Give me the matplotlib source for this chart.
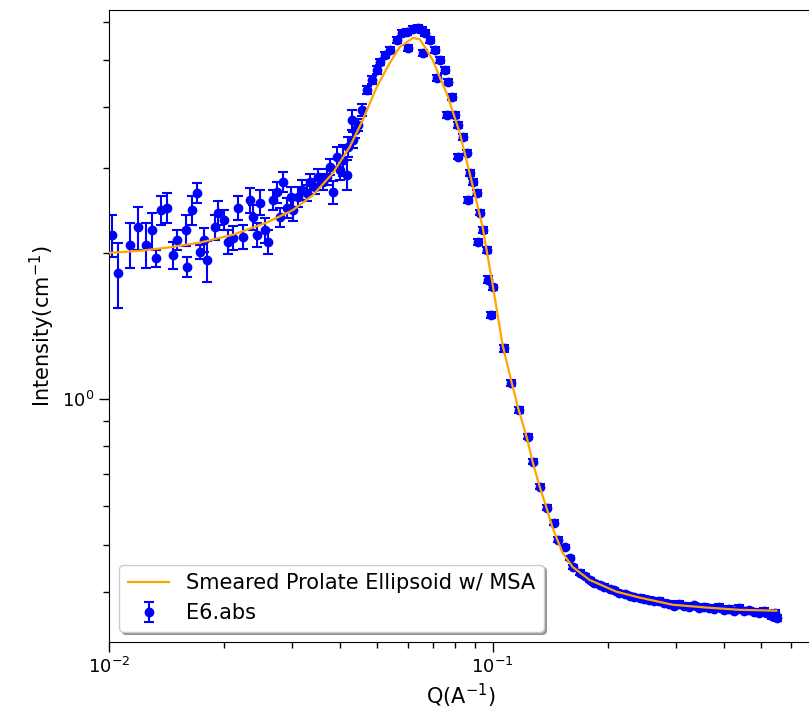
import matplotlib
matplotlib.use("Agg")
import matplotlib.pyplot as plt

# measured data (Q in 1/A, intensity in 1/cm, error in 1/cm)
q_data = [
    0.01018, 0.01055, 0.01134, 0.01190, 0.01249, 0.01294, 0.01326, 0.01365, 0.01416, 0.01468,
    0.01503, 0.01586, 0.01596, 0.01644, 0.01694, 0.01726, 0.01767, 0.01799, 0.01888, 0.01923,
    0.01992, 0.02042, 0.02104, 0.02168, 0.02234, 0.02328, 0.02371, 0.02427, 0.02472, 0.02547,
    0.02594, 0.02673, 0.02738, 0.02787, 0.02838, 0.02907, 0.02978, 0.03013, 0.03105, 0.03181,
    0.03278, 0.03337, 0.03439, 0.03502, 0.03609, 0.03697, 0.03763, 0.03831, 0.03925, 0.03996,
    0.04068, 0.04167, 0.04192, 0.04295, 0.04321, 0.04373, 0.04452, 0.04560, 0.04699, 0.04842,
    0.04989, 0.05079, 0.05234, 0.05393, 0.05623, 0.05794, 0.05970, 0.06006, 0.06189, 0.06377,
    0.06534, 0.06574, 0.06653, 0.06855, 0.07063, 0.07149, 0.07278, 0.07499, 0.07636, 0.07822,
    0.07590, 0.07962, 0.08107, 0.08354, 0.08107, 0.08557, 0.08712, 0.08870, 0.08608, 0.09085,
    0.09250, 0.09140, 0.09419, 0.09647, 0.09705, 0.1000, 0.0988, 0.1068, 0.1114, 0.1169,
    0.1233, 0.1271, 0.1326, 0.1382, 0.1442, 0.1477, 0.1540, 0.1587, 0.1616, 0.1685,
    0.1736, 0.1789, 0.1843, 0.1900, 0.1957, 0.2017, 0.2078, 0.2141, 0.2207, 0.2274,
    0.2343, 0.2415, 0.2488, 0.2564, 0.2642, 0.2722, 0.2805, 0.2890, 0.2979, 0.3069,
    0.3162, 0.3258, 0.3357, 0.3460, 0.3565, 0.3673, 0.3785, 0.3900, 0.4019, 0.4142,
    0.4267, 0.4397, 0.4531, 0.4669, 0.4811, 0.4957, 0.5108, 0.5264, 0.5362, 0.5459,
    0.5524,
]
i_data = [
    2.18, 1.82, 2.08, 2.26, 2.08, 2.23, 1.95, 2.45, 2.48, 1.98,
    2.13, 2.23, 1.87, 2.45, 2.66, 2.01, 2.13, 1.93, 2.26, 2.42,
    2.34, 2.11, 2.15, 2.48, 2.16, 2.57, 2.37, 2.18, 2.54, 2.23,
    2.11, 2.57, 2.67, 2.37, 2.80, 2.48, 2.61, 2.45, 2.61, 2.70,
    2.66, 2.80, 2.74, 2.87, 2.80, 2.87, 3.01, 2.67, 3.16, 2.97,
    3.11, 2.90, 3.31, 3.76, 3.42, 3.59, 3.67, 3.94, 4.34, 4.55,
    4.77, 4.95, 5.12, 5.24, 5.50, 5.68, 5.71, 5.29, 5.79, 5.82,
    5.77, 5.17, 5.68, 5.50, 5.24, 4.59, 5.00, 4.77, 4.50, 4.20,
    3.85, 3.85, 3.67, 3.47, 3.16, 3.22, 2.92, 2.80, 2.57, 2.66,
    2.42, 2.11, 2.23, 2.03, 1.76, 1.70, 1.49, 1.27, 1.08, 0.949,
    0.835, 0.742, 0.659, 0.596, 0.555, 0.512, 0.495, 0.470, 0.450, 0.438,
    0.4316, 0.423, 0.4175, 0.4135, 0.410, 0.4058, 0.4039, 0.398, 0.3963, 0.3926,
    0.3907, 0.389, 0.3870, 0.3852, 0.382, 0.3834, 0.3797, 0.3779, 0.3743, 0.3779,
    0.3743, 0.3725, 0.376, 0.371, 0.3725, 0.371, 0.3690, 0.3725, 0.367, 0.3690,
    0.3656, 0.371, 0.3656, 0.367, 0.364, 0.3621, 0.3656, 0.3603, 0.3569, 0.3621,
    0.3535,
]
err_data = [
    0.22, 0.28, 0.22, 0.23, 0.22, 0.19, 0.08, 0.17, 0.18, 0.13,
    0.10, 0.16, 0.09, 0.17, 0.13, 0.07, 0.12, 0.19, 0.13, 0.14,
    0.11, 0.12, 0.12, 0.14, 0.12, 0.15, 0.14, 0.12, 0.15, 0.13,
    0.12, 0.12, 0.13, 0.11, 0.13, 0.12, 0.12, 0.12, 0.12, 0.13,
    0.10, 0.11, 0.10, 0.11, 0.11, 0.11, 0.11, 0.15, 0.15, 0.14,
    0.23, 0.21, 0.16, 0.18, 0.13, 0.14, 0.10, 0.11, 0.08, 0.09,
    0.09, 0.07, 0.07, 0.07, 0.08, 0.08, 0.08, 0.07, 0.08, 0.08,
    0.08, 0.07, 0.08, 0.08, 0.07, 0.06, 0.07, 0.06, 0.06, 0.06,
    0.05, 0.05, 0.05, 0.05, 0.04, 0.04, 0.04, 0.04, 0.04, 0.04,
    0.03, 0.03, 0.03, 0.03, 0.03, 0.02, 0.02, 0.02, 0.015, 0.012,
    0.010, 0.009, 0.008, 0.007, 0.006, 0.006, 0.005, 0.005, 0.005, 0.005,
    0.004, 0.004, 0.004, 0.004, 0.004, 0.004, 0.004, 0.004, 0.004, 0.004,
    0.004, 0.004, 0.004, 0.004, 0.004, 0.004, 0.004, 0.004, 0.004, 0.004,
    0.004, 0.004, 0.004, 0.004, 0.004, 0.004, 0.004, 0.004, 0.004, 0.004,
    0.004, 0.004, 0.004, 0.004, 0.004, 0.005, 0.005, 0.005, 0.005, 0.005,
    0.005,
]

# fitted model curve
q_fit = [
    0.0100, 0.01204, 0.01416, 0.01726, 0.02104, 0.02578, 0.03013, 0.03398, 0.03831, 0.04243,
    0.04587, 0.04989, 0.05393, 0.05727, 0.06189, 0.06454, 0.06653, 0.0698, 0.07278, 0.07590,
    0.08206, 0.08712, 0.09419, 0.1000, 0.1062, 0.1121, 0.1169, 0.1226, 0.1271, 0.1326,
    0.1382, 0.1433, 0.1522, 0.1616, 0.1789, 0.2103, 0.2415, 0.2944, 0.3608, 0.4397,
    0.5492,
]
i_fit = [
    2.00, 2.02, 2.05, 2.10, 2.18, 2.31, 2.45, 2.63, 2.92, 3.31,
    3.76, 4.40, 4.93, 5.32, 5.55, 5.52, 5.32, 5.00, 4.61, 4.27,
    3.54, 2.92, 2.26, 1.72, 1.29, 1.08, 0.949, 0.835, 0.742, 0.659,
    0.596, 0.542, 0.481, 0.450, 0.423, 0.400, 0.389, 0.376, 0.371, 0.367,
    0.3655,
]

TICK_FS = 13
LABEL_FS = 15

fig = plt.figure(figsize=(8.09, 7.23), dpi=100)
ax = fig.add_axes([109 / 809, 81 / 723, 703 / 809, 632 / 723])

ax.errorbar(q_data, i_data, yerr=err_data, fmt="o", color="blue", markersize=6,
            elinewidth=1.5, capsize=3.5, capthick=1.5, label="E6.abs", zorder=2)
ax.plot(q_fit, i_fit, color="orange", linewidth=1.6,
        label="Smeared Prolate Ellipsoid w/ MSA", zorder=3)

ax.set_xscale("log")
ax.set_yscale("log")
ax.set_xlim(0.01, 0.68)
ax.set_ylim(0.315, 6.34)

ax.set_xlabel("Q(A$^{-1}$)", fontsize=LABEL_FS)
ax.set_ylabel("Intensity(cm$^{-1}$)", fontsize=LABEL_FS)
ax.tick_params(which="major", labelsize=TICK_FS, length=7, width=1)
ax.tick_params(which="minor", length=4, width=1)

ax.legend(loc="lower left", fontsize=LABEL_FS, shadow=True, fancybox=True)

fig.savefig("out.png", dpi=100)
